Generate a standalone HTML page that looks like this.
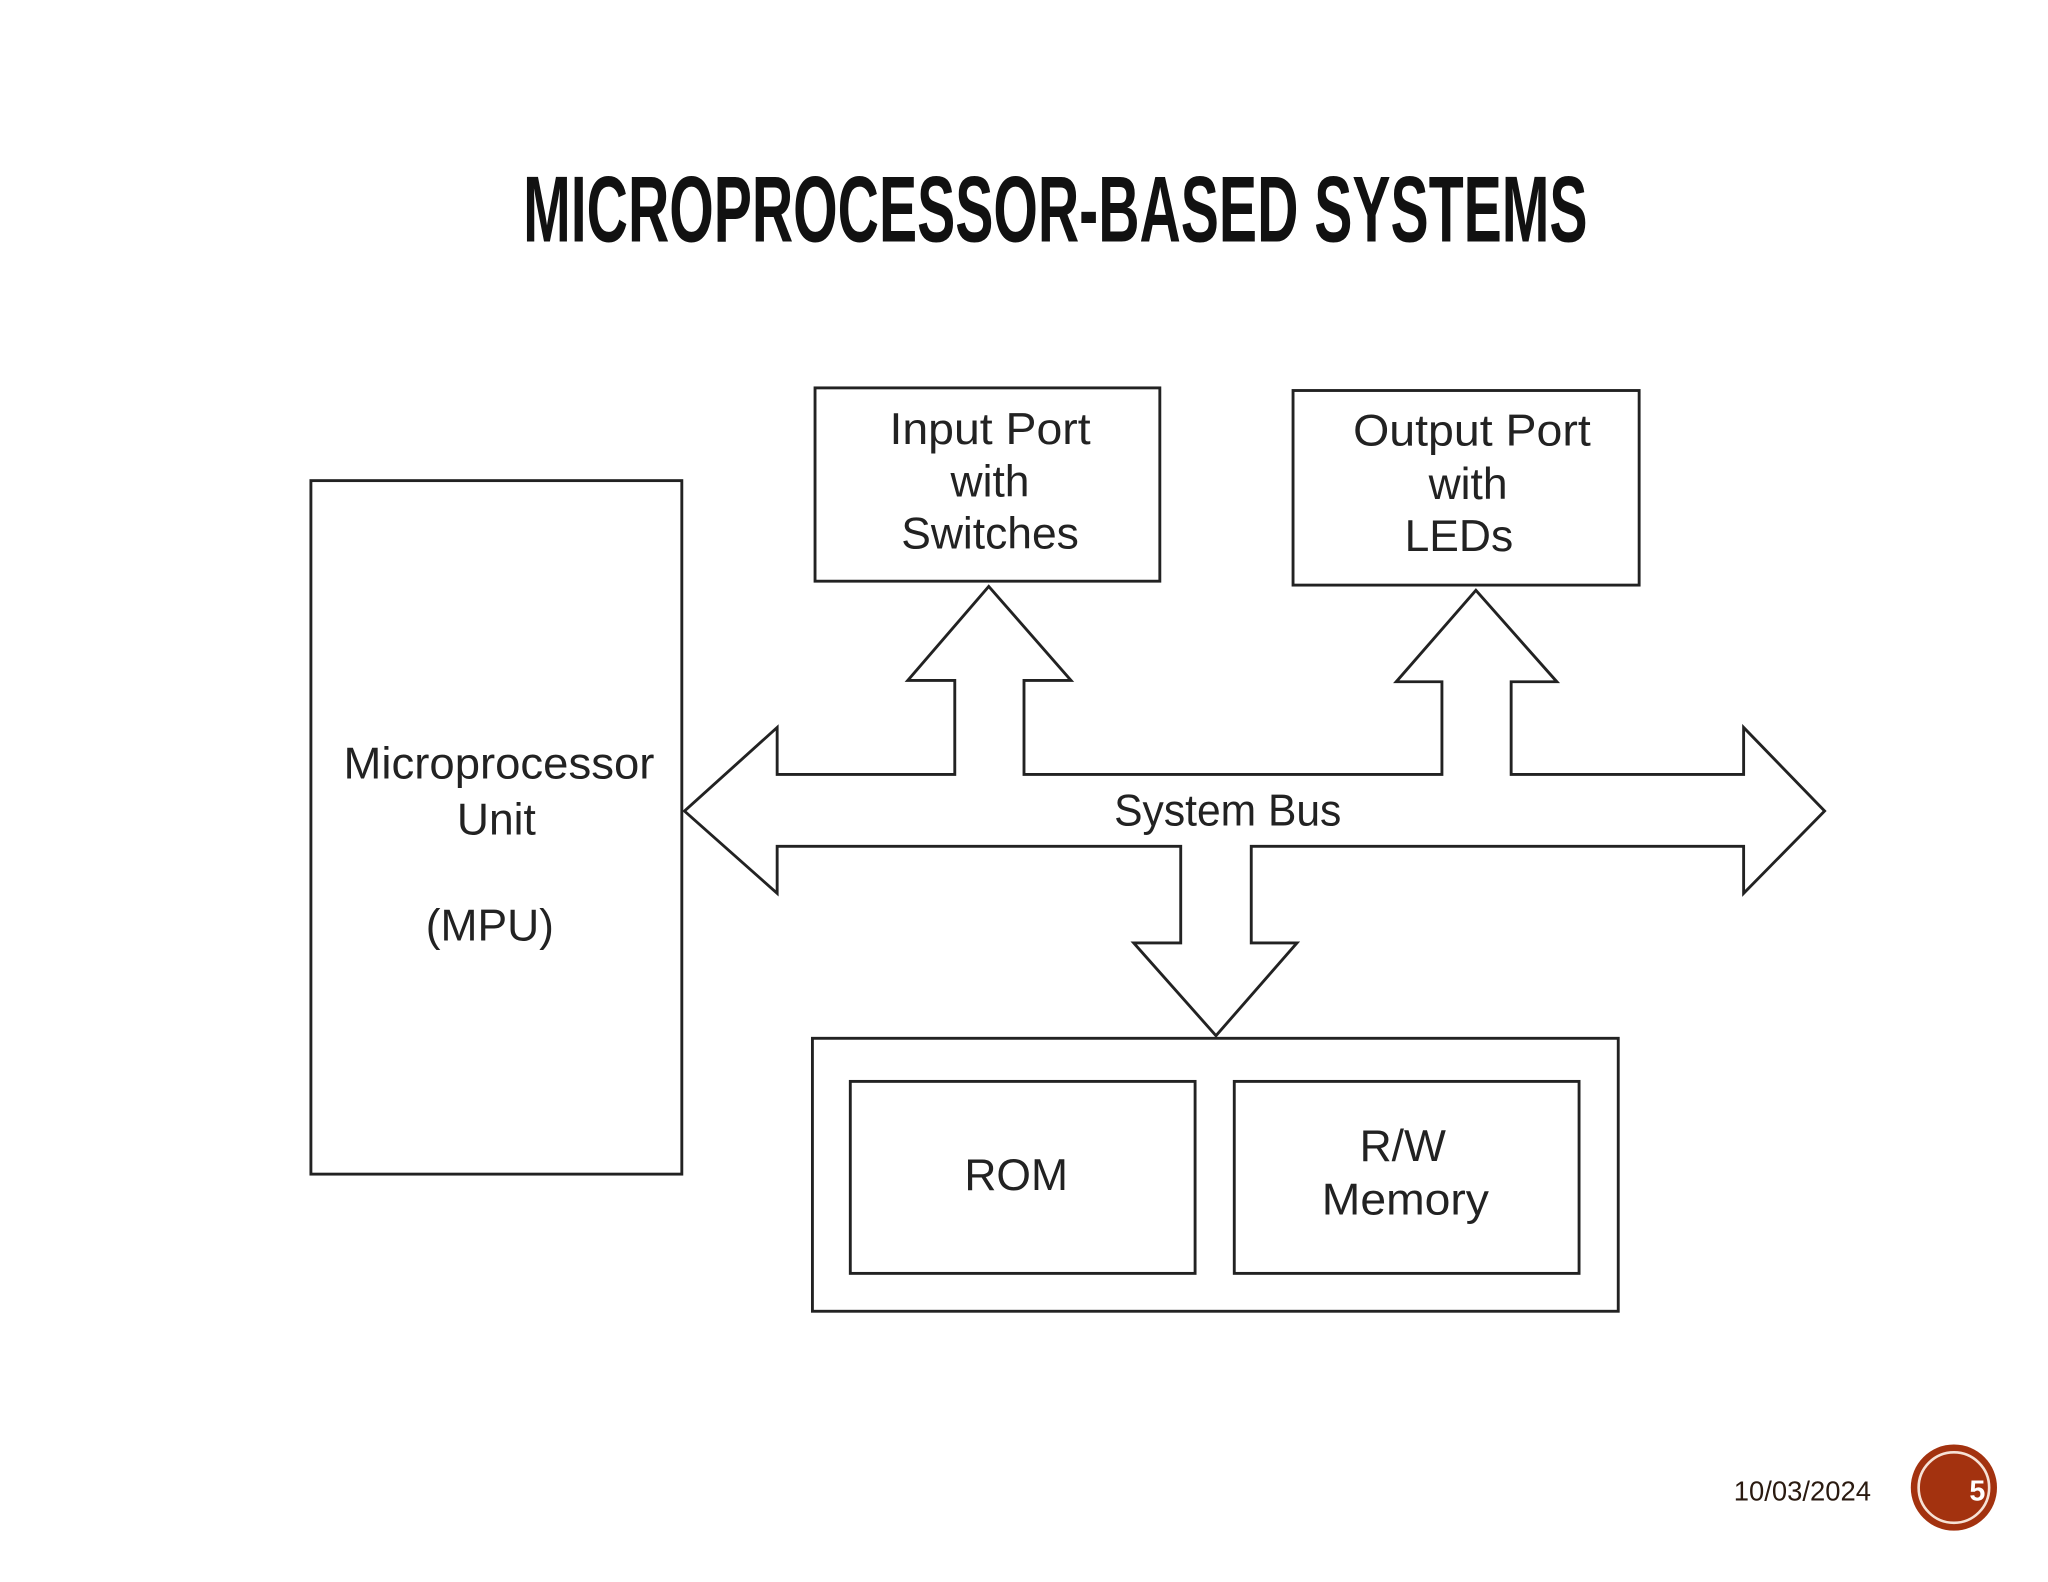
<!DOCTYPE html>
<html><head><meta charset="utf-8"><style>
html,body{margin:0;padding:0;background:#fff;}
svg{display:block;}
</style></head><body>
<svg width="2048" height="1582" viewBox="0 0 1568 1211.3" xmlns="http://www.w3.org/2000/svg">
<rect width="1568" height="1212" fill="#fff"/>
<text x="808" y="185" text-anchor="middle" font-family="'Liberation Sans Narrow','Liberation Sans',sans-serif" font-weight="bold" font-size="72" textLength="815" lengthAdjust="spacingAndGlyphs" fill="#111">MICROPROCESSOR-BASED SYSTEMS</text>
<g fill="none" stroke="#222" stroke-width="2.2">
<rect x="238" y="368" width="284" height="531"/>
<rect x="624" y="297" width="264" height="148"/>
<rect x="990" y="299" width="265" height="149"/>
<rect x="622" y="795" width="617" height="209"/>
<rect x="651" y="828" width="264" height="147"/>
<rect x="945" y="828" width="264" height="147"/>
<polygon points="524,621 595,557 595,593 731,593 731,521 695,521 757,449 820,521 784,521 784,593 1104,593 1104,522 1069,522 1130,452 1192,522 1157,522 1157,593 1335,593 1335,557 1397,621 1335,684 1335,648 958,648 958,722 993,722 931,793 868,722 904,722 904,648 595,648 595,684"/>
</g>
<g font-family="'Liberation Sans Narrow','Liberation Sans',sans-serif" font-size="34" fill="#222" text-anchor="middle">
<text x="382" y="596" textLength="238" lengthAdjust="spacingAndGlyphs">Microprocessor</text>
<text x="380" y="639">Unit</text>
<text x="375" y="720">(MPU)</text>
<text x="758" y="340" textLength="154" lengthAdjust="spacingAndGlyphs">Input Port</text>
<text x="758" y="380">with</text>
<text x="758" y="420" textLength="136" lengthAdjust="spacingAndGlyphs">Switches</text>
<text x="1127" y="341" textLength="182" lengthAdjust="spacingAndGlyphs">Output Port</text>
<text x="1124" y="382">with</text>
<text x="1117" y="422">LEDs</text>
<text x="940" y="632" textLength="174" lengthAdjust="spacingAndGlyphs">System Bus</text>
<text x="778" y="911">ROM</text>
<text x="1074" y="889">R/W</text>
<text x="1076" y="930" textLength="128" lengthAdjust="spacingAndGlyphs">Memory</text>
</g>
<text x="1380" y="1149" text-anchor="middle" font-family="'Liberation Sans',sans-serif" font-size="21" fill="#2a1a10">10/03/2024</text>
<circle cx="1496" cy="1139" r="33" fill="#a3320f"/>
<circle cx="1496" cy="1139" r="27" fill="none" stroke="#f6e2d6" stroke-width="2"/>
<text x="1514" y="1149" text-anchor="middle" font-family="'Liberation Sans',sans-serif" font-weight="bold" font-size="22" fill="#fff">5</text>
</svg>
</body></html>
